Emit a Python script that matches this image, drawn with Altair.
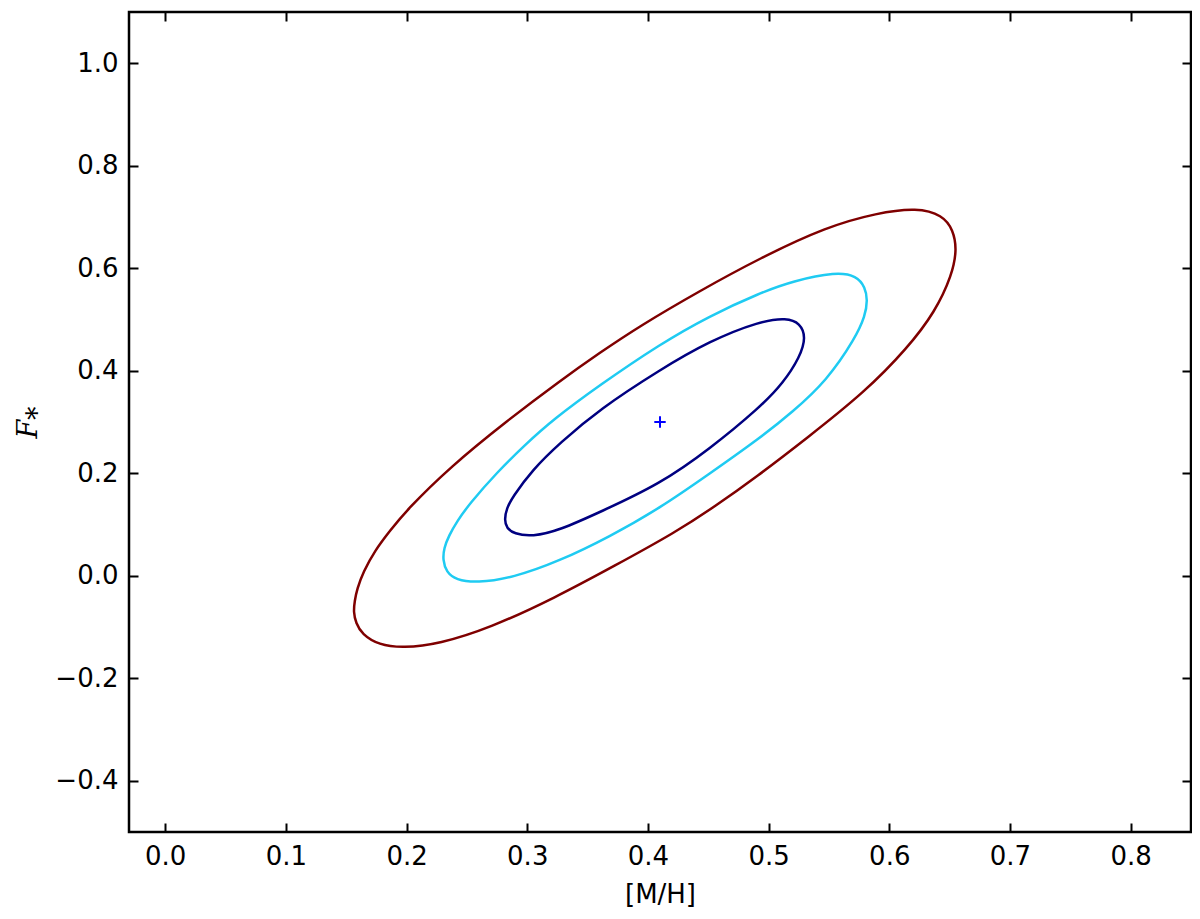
import altair as alt
import pandas as pd

# Contour levels ([M/H], F*)
outer_x = [0.156, 0.157, 0.159, 0.164, 0.174, 0.186, 0.200, 0.236, 0.283, 0.327, 0.360, 0.393,
           0.443, 0.493, 0.548, 0.590, 0.623, 0.644, 0.653, 0.656, 0.652, 0.638, 0.615, 0.580,
           0.532, 0.490, 0.456, 0.423, 0.372, 0.323, 0.269, 0.227, 0.197, 0.177, 0.163, 0.158]
outer_y = [-0.071, -0.049, -0.026, 0.007, 0.050, 0.087, 0.128, 0.212, 0.302, 0.380, 0.435, 0.487,
           0.556, 0.620, 0.681, 0.708, 0.718, 0.704, 0.675, 0.636, 0.587, 0.515, 0.444, 0.359,
           0.269, 0.193, 0.136, 0.085, 0.019, -0.043, -0.102, -0.133, -0.141, -0.135, -0.114, -0.092]

mid_x = [0.230, 0.231, 0.235, 0.242, 0.252, 0.275, 0.298, 0.321, 0.360, 0.410, 0.451, 0.493,
         0.520, 0.556, 0.573, 0.580, 0.582, 0.580, 0.572, 0.548, 0.520, 0.493, 0.451, 0.410,
         0.368, 0.327, 0.288, 0.258, 0.241, 0.233]
mid_y = [0.031, 0.054, 0.078, 0.107, 0.140, 0.202, 0.255, 0.304, 0.372, 0.452, 0.507, 0.552,
         0.575, 0.593, 0.585, 0.563, 0.538, 0.507, 0.464, 0.380, 0.320, 0.269, 0.199, 0.132,
         0.076, 0.029, -0.004, -0.014, -0.008, 0.007]

inner_x = [0.281, 0.283, 0.288, 0.304, 0.327, 0.360, 0.410, 0.451, 0.493, 0.515, 0.526, 0.531,
           0.526, 0.512, 0.493, 0.451, 0.410, 0.360, 0.327, 0.304, 0.289, 0.283]
inner_y = [0.109, 0.132, 0.154, 0.206, 0.259, 0.325, 0.402, 0.458, 0.497, 0.503, 0.493, 0.466,
           0.427, 0.376, 0.329, 0.247, 0.179, 0.124, 0.089, 0.076, 0.082, 0.093]

center_x = [0.41]
center_y = [0.30]

levels = ["inner", "mid", "outer"]
level_colors = ["#000080", "#1fcbf2", "#7f0000"]

x_ticks = [0.0, 0.1, 0.2, 0.3, 0.4, 0.5, 0.6, 0.7, 0.8]
y_ticks = [-0.4, -0.2, 0.0, 0.2, 0.4, 0.6, 0.8, 1.0]
x_domain = [-0.03, 0.85]
y_domain = [-0.5, 1.1]

W, H = 1062, 820

rows = []
for name, xs, ys in [("inner", inner_x, inner_y), ("mid", mid_x, mid_y), ("outer", outer_x, outer_y)]:
    for i, (a, b) in enumerate(zip(xs, ys)):
        rows.append({"level": name, "i": i, "x": a, "y": b})
df = pd.DataFrame(rows)
center = pd.DataFrame({"x": center_x, "y": center_y})

xs = alt.Scale(domain=x_domain, nice=False, zero=False)
ys = alt.Scale(domain=y_domain, nice=False, zero=False)

FONT = "DejaVu Sans"

lines = alt.Chart(df).mark_line(interpolate="basis-closed", strokeWidth=2.5).encode(
    x=alt.X("x:Q", scale=xs, axis=alt.Axis(
        orient="bottom", values=x_ticks, format=".1f", ticks=False, tickSize=0, domain=False,
        grid=False, labelFont=FONT, labelFontSize=26, labelPadding=11, labelColor="black",
        title="[M/H]", titleFont=FONT, titleFontSize=26, titleFontWeight="normal",
        titleColor="black", titleBaseline="middle", titleY=62)),
    y=alt.Y("y:Q", scale=ys, axis=alt.Axis(
        orient="left", values=y_ticks, format=".1f", ticks=False, tickSize=0, domain=False,
        grid=False, labelFont=FONT, labelFontSize=26, labelPadding=11, labelColor="black",
        title="F⁎", titleFont="DejaVu Serif", titleFontStyle="italic", titleFontSize=27,
        titleFontWeight="normal", titleColor="black", titleAngle=270, titleAlign="center",
        titleBaseline="middle", titleX=-101, titleY=410)),
    color=alt.Color("level:N", scale=alt.Scale(domain=levels, range=level_colors), legend=None),
    order=alt.Order("i:Q"),
)

tick_axis = dict(labels=False, ticks=True, tickSize=9, tickWidth=2, tickColor="black",
                 domain=False, grid=False, title=None)

marker = alt.Chart(center).mark_point(
    shape="M-1,0H1M0,-1V1", filled=False, color="#0000ff", strokeWidth=2, size=130, opacity=1
).encode(
    x=alt.X("x:Q", scale=xs, axis=alt.Axis(orient="top", offset=-H, values=x_ticks, **tick_axis)),
    y=alt.Y("y:Q", scale=ys, axis=alt.Axis(orient="right", offset=-W, values=y_ticks, **tick_axis)),
)

marker2 = alt.Chart(center).mark_point(
    shape="M-1,0H1M0,-1V1", filled=False, color="#0000ff", strokeWidth=2, size=130, opacity=0
).encode(
    x=alt.X("x:Q", scale=xs, axis=alt.Axis(orient="bottom", offset=-H, values=x_ticks, **tick_axis)),
    y=alt.Y("y:Q", scale=ys, axis=alt.Axis(orient="left", offset=-W, values=y_ticks, **tick_axis)),
)

chart = alt.layer(lines, marker, marker2).resolve_axis(
    x="independent", y="independent"
).properties(
    width=W, height=H,
    autosize=alt.AutoSizeParams(type="none"),
    padding={"left": 121, "top": 4, "right": 1, "bottom": 79},
    background="white",
).configure_view(stroke="black", strokeWidth=2.5)

chart.save("out.html", embed_options={"renderer": "svg", "actions": False})
